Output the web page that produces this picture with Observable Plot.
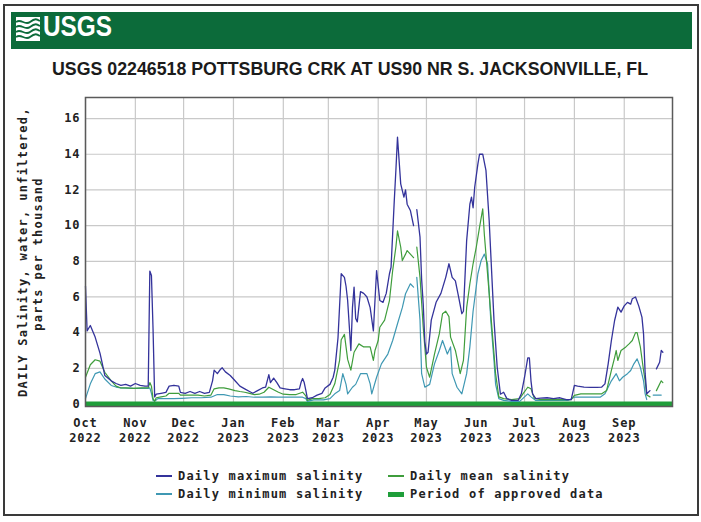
<!DOCTYPE html>
<html>
<head>
<meta charset="utf-8">
<script src="https://cdn.jsdelivr.net/npm/d3@7"></script>
<script src="https://cdn.jsdelivr.net/npm/@observablehq/plot@0.6"></script>
<style>
  html, body { margin: 0; padding: 0; background: #fff; }
  #page { position: relative; width: 701px; height: 522px; overflow: hidden; background: #fff; }
  #frame { position: absolute; left: 3px; top: 4px; width: 692px; height: 508px; border: 2px solid #3a3a3a; }
  #header { position: absolute; left: 11px; top: 12px; width: 681px; height: 37px; background: #0c6b3a; }
  #logoText { position: absolute; left: 32px; top: -2px; font-family: "Liberation Sans", Arial, sans-serif; font-weight: bold; font-size: 29px; color: #fff; transform-origin: 0 0; transform: scaleX(0.84); }
  #logoIcon { position: absolute; left: 5px; top: 5px; }
  #title { position: absolute; left: 0; top: 58px; white-space: nowrap; font-family: "Liberation Sans", Arial, sans-serif; font-weight: bold; font-size: 18.5px; color: #1b1b1b; transform-origin: 0 0; }
  #chart { position: absolute; left: 0; top: 85px; }
  #chart svg text { letter-spacing: 0.9px; }
  .ytitle { position: absolute; white-space: nowrap; font-family: "DejaVu Sans Mono", monospace; font-weight: bold; font-size: 12px; letter-spacing: 1.3px; color: #222; transform: translate(-50%, -50%) rotate(-90deg); }
  .leg { position: absolute; font-family: "DejaVu Sans Mono", monospace; font-weight: bold; font-size: 12px; letter-spacing: 1.2px; color: #222; white-space: nowrap; transform: translateY(-50%); }
  .sw { position: absolute; width: 16px; }
</style>
</head>
<body>
<div id="page">
  <div id="frame"></div>
  <div id="header">
    <svg id="logoIcon" width="24" height="24" viewBox="0 0 24 24">
      <rect x="0" y="0" width="24" height="24" fill="#fff"/>
      <path d="M0 5 C5 1, 9 9, 14 5 S 21 2, 24 4" stroke="#0c6b3a" stroke-width="1.8" fill="none"/>
      <path d="M0 10 C5 6, 9 14, 14 10 S 21 7, 24 9" stroke="#0c6b3a" stroke-width="1.8" fill="none"/>
      <path d="M0 15 C5 11, 9 19, 14 15 S 21 12, 24 14" stroke="#0c6b3a" stroke-width="1.8" fill="none"/>
      <path d="M0 20 C5 16, 9 24, 14 20 S 21 17, 24 19" stroke="#0c6b3a" stroke-width="1.8" fill="none"/>
    </svg>
    <div id="logoText">USGS</div>
  </div>
  <div id="title">USGS 02246518 POTTSBURG CRK AT US90 NR S. JACKSONVILLE, FL</div>
  <div id="chart"></div>
  <div class="ytitle" style="left:23px; top:252px;">DAILY Salinity, water, unfiltered,</div>
  <div class="ytitle" style="left:38px; top:254px;">parts per thousand</div>
  <div id="legend"></div>
</div>
<script>
// ---- Data (days since 2022-10-01, values in parts per thousand) ----
const maxDays = [0,1,3,6,9,10,12,16,19,22,25,28,31,34,37,39,40,41,42,43,44,47,50,52,55,58,59,62,65,68,71,74,77,79,80,82,84,85,87,90,93,96,99,102,104,107,110,112,114,115,117,119,121,124,127,130,133,134,135,136,137,138,141,144,147,149,152,154,155,157,159,161,162,163,165,166,167,168,169,171,173,175,177,179,180,181,183,185,187,189,190,192,193,194,195,196,198,199,200,202,204,205,206,208,209,210,211,212,213,215,218,221,224,226,228,230,232,234,235,237,239,240,241,242,244,245,247,249,251,253,254,256,258,260,262,265,269,271,273,275,276,277,278,280,283,287,291,295,299,302,304,306,310,314,318,321,323,325,327,329,331,333,335,337,339,340,342,344,346,347,348,349,351,352,355,357,358,359];
const maxVals = [6.6,4.1,4.4,3.75,2.85,2.45,1.6,1.3,1.15,1.05,1.1,1.0,1.15,1.05,1.0,1.0,7.45,7.2,4.2,0.4,0.55,0.6,0.65,1.0,1.05,1.0,0.65,0.6,0.7,0.6,0.7,0.6,0.65,1.3,1.9,1.7,1.95,2.03,1.8,1.6,1.3,1.0,0.85,0.7,0.6,0.75,0.9,0.95,1.65,1.2,1.45,1.2,0.9,0.85,0.8,0.8,0.85,1.2,1.43,1.2,0.76,0.3,0.35,0.5,0.6,0.9,1.1,1.5,1.9,3.7,7.3,7.1,6.6,5.8,3.0,5.4,6.55,4.8,4.6,6.3,6.2,6.0,5.4,4.1,5.8,7.48,5.8,5.7,6.2,7.3,7.67,11.4,13.1,14.96,13.65,12.34,11.6,12.0,11.2,10.85,10.0,null,10.9,9.35,7.0,5.6,3.5,2.8,2.9,4.7,5.7,6.2,7.1,7.86,7.1,6.9,6.0,5.06,5.2,9.16,11.2,11.6,11.0,12.15,13.46,14.0,14.0,13.1,10.3,6.55,4.7,2.06,0.55,0.66,0.3,0.2,0.2,0.57,1.5,2.58,2.58,1.3,0.57,0.3,0.33,0.35,0.3,0.35,0.25,0.25,1.04,1.0,0.95,0.93,0.93,0.95,1.13,2.25,3.56,4.68,5.43,5.15,5.5,5.7,5.6,5.9,6.0,5.5,4.87,3.93,1.7,0.57,0.75,null,1.97,2.34,3.0,2.9];

const meanDays = [0,3,6,9,12,16,19,22,25,30,35,39,40,41,42,43,44,47,50,52,55,58,59,62,66,70,74,78,80,83,86,89,93,96,99,102,105,108,111,114,117,120,123,127,131,135,137,138,141,145,149,152,155,158,159,161,163,165,167,170,173,177,179,180,182,183,186,189,191,193,194,196,197,199,200,202,204,205,206,208,210,212,214,217,220,222,224,226,227,230,233,235,237,239,241,243,245,247,248,251,253,255,257,260,265,270,272,275,277,279,283,290,296,302,304,308,315,321,324,327,329,330,331,333,336,338,340,342,343,345,347,348,349,351,352,355,358,359];
const meanVals = [1.5,2.2,2.48,2.4,1.78,1.3,1.0,0.9,0.9,0.88,0.9,0.9,1.2,1.0,0.3,0.15,0.35,0.4,0.45,0.6,0.6,0.6,0.5,0.5,0.5,0.5,0.45,0.5,0.85,0.9,0.9,0.85,0.75,0.7,0.66,0.6,0.53,0.55,0.66,0.94,0.8,0.66,0.55,0.53,0.53,0.66,0.45,0.2,0.3,0.3,0.35,0.53,1.13,2.44,3.6,3.9,2.5,1.9,2.9,3.37,3.2,3.2,2.44,3.0,3.56,4.3,4.7,5.8,7.48,8.8,9.7,8.8,8.04,8.4,8.6,8.4,8.2,null,8.8,7.1,4.3,2.06,1.5,2.8,3.93,5.06,5.2,4.9,3.75,3.0,1.7,2.44,5.4,6.74,7.86,8.8,9.9,10.94,9.5,6.2,3.93,1.7,0.4,0.3,0.25,0.3,0.57,0.94,0.85,0.33,0.25,0.25,0.25,0.25,0.48,0.57,0.57,0.57,0.75,1.88,2.6,3.0,2.44,3.0,3.2,3.37,3.56,4.0,4.0,3.2,1.88,1.3,0.5,0.4,null,0.75,1.3,1.2];

const minDays = [0,3,6,9,12,16,19,22,30,39,40,41,42,43,45,50,55,60,66,72,78,82,86,90,95,100,105,110,115,120,125,130,135,137,138,142,148,152,155,158,160,162,163,166,168,171,175,177,178,181,184,188,191,194,197,199,202,204,205,206,208,209,211,214,217,220,222,225,227,228,231,234,237,239,241,244,246,248,250,252,254,255,257,260,265,270,275,277,280,290,300,304,310,320,323,327,330,332,334,337,339,341,343,345,347,348,349,350,353,358];
const minVals = [0.3,1.13,1.7,1.8,1.4,1.04,0.95,0.9,0.88,0.88,0.9,0.6,0.2,0.15,0.3,0.3,0.3,0.32,0.35,0.35,0.38,0.53,0.53,0.45,0.4,0.42,0.38,0.38,0.4,0.38,0.38,0.38,0.38,0.3,0.15,0.23,0.23,0.3,0.57,0.75,1.7,1.1,0.57,0.94,1.1,1.7,1.7,1.13,0.57,1.5,2.25,2.8,3.56,4.5,5.4,6.18,6.74,6.55,null,7.1,4.7,1.7,0.94,1.1,2.25,3.0,3.56,2.8,3.2,1.7,0.94,0.57,1.7,3.2,5.2,7.3,8.04,8.4,7.86,4.7,2.44,1.1,0.3,0.2,0.15,0.15,0.57,0.4,0.2,0.2,0.2,0.38,0.38,0.38,0.57,1.3,1.7,1.3,1.5,1.7,1.88,2.25,2.53,2.06,1.3,0.57,0.25,null,0.5,0.5];

const approvedStartDay = [0];
const approvedEndDay = [364];

const monthLabels = ["Oct","Nov","Dec","Jan","Feb","Mar","Apr","May","Jun","Jul","Aug","Sep"];
const yearLabels = ["2022","2022","2022","2023","2023","2023","2023","2023","2023","2023","2023","2023"];
const yTicks = [0,2,4,6,8,10,12,14,16];

const seriesNames = ["Daily maximum salinity","Daily mean salinity","Daily minimum salinity","Period of approved data"];
const seriesColors = ["#34339b","#3f9d3c","#3f98b3","#1f9e3a"];

// ---- Build tables ----
const day0 = Date.UTC(2022, 9, 1);
const toDate = d => new Date(day0 + d * 86400000);
const mk = (days, vals) => days.map((d, i) => ({date: toDate(d), v: vals[i]}));
const maxData = mk(maxDays, maxVals);
const meanData = mk(meanDays, meanVals);
const minData = mk(minDays, minVals);
const approved = approvedStartDay.map((s, i) => ({start: toDate(s), end: toDate(approvedEndDay[i] + 1)}));
const monthTicks = monthLabels.map((m, i) => new Date(Date.UTC(2022, 9 + i, 1)));
const tickIndex = d => monthTicks.findIndex(t => +t === +d);

const chart = Plot.plot({
  width: 701,
  height: 370,
  marginLeft: 85,
  marginRight: 29,
  marginTop: 12,
  marginBottom: 49,
  style: {fontFamily: "'DejaVu Sans Mono', monospace", fontSize: "12px", fontWeight: "bold", color: "#222", background: "transparent"},
  x: {type: "utc", domain: [new Date(day0), new Date(Date.UTC(2023, 9, 1))]},
  y: {domain: [-0.14, 17.18]},
  marks: [
    Plot.gridX(monthTicks, {stroke: "#c9c9c9", strokeOpacity: 1, strokeWidth: 1.2}),
    Plot.gridY(yTicks, {stroke: "#c9c9c9", strokeOpacity: 1, strokeWidth: 1.2}),
    Plot.ruleY(approved, {y: 0, x1: "start", x2: "end", stroke: seriesColors[3], strokeWidth: 5}),
    Plot.line(minData, {x: "date", y: "v", stroke: seriesColors[2], strokeWidth: 1.2}),
    Plot.line(meanData, {x: "date", y: "v", stroke: seriesColors[1], strokeWidth: 1.2}),
    Plot.line(maxData, {x: "date", y: "v", stroke: seriesColors[0], strokeWidth: 1.3}),
    Plot.axisY(yTicks, {tickSize: 0, tickPadding: 5, label: null, tickFormat: d => String(d)}),
    Plot.axisX(monthTicks, {tickSize: 0, tickPadding: 12, label: null, tickFormat: d => monthLabels[tickIndex(d)]}),
    Plot.axisX(monthTicks, {tickSize: 0, tickPadding: 27, label: null, tickFormat: d => yearLabels[tickIndex(d)]}),
    Plot.frame({stroke: "#5a5a5a", strokeWidth: 1.5})
  ]
});
document.getElementById("chart").appendChild(chart);

// ---- Title fit ----
const title = document.getElementById("title");
const tw = title.getBoundingClientRect().width;
const targetW = 596;
title.style.transform = `scaleX(${targetW / tw})`;
title.style.left = "52px";

// ---- Legend ----
const legend = document.getElementById("legend");
const legendItems = [
  {i: 0, x: 156, y: 476, w: 1.5},
  {i: 1, x: 388, y: 476, w: 1.5},
  {i: 2, x: 156, y: 494, w: 1.5},
  {i: 3, x: 388, y: 494, w: 5}
];
legendItems.forEach(it => {
  const sw = document.createElement("div");
  sw.className = "sw";
  sw.style.left = it.x + "px";
  sw.style.top = (it.y - it.w / 2) + "px";
  sw.style.height = it.w + "px";
  sw.style.background = seriesColors[it.i];
  legend.appendChild(sw);
  const t = document.createElement("div");
  t.className = "leg";
  t.style.left = (it.x + 22) + "px";
  t.style.top = it.y + "px";
  t.textContent = seriesNames[it.i];
  legend.appendChild(t);
});
</script>
</body>
</html>
